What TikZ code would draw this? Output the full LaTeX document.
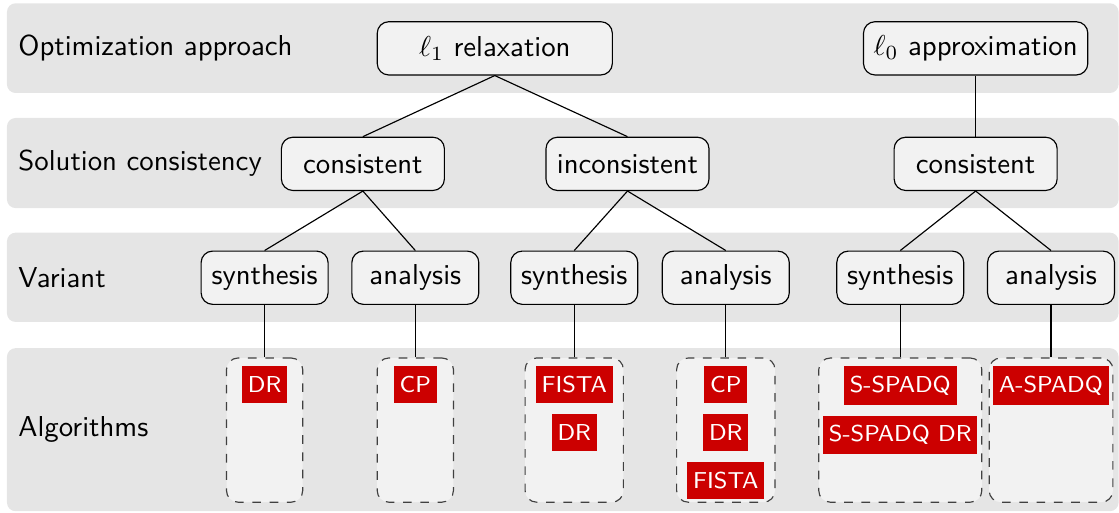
\documentclass[tikz,border=0pt]{standalone}
\usepackage{fontspec}
\usepackage{amsmath}
\usetikzlibrary{positioning}
\definecolor{algred}{RGB}{204,0,0}
\tikzset{
    band/.style={fill=black!10, rounded corners=3pt},
    rowlab/.style={anchor=west, font=\sffamily},
    choice/.style={rectangle, rounded corners=4pt, draw=black, fill=black!5, minimum height=0.65cm, inner xsep=3.5pt, font=\sffamily},
    algbox/.style={rectangle, rounded corners=4pt, draw=black!75, dashed, fill=black!5, minimum height=1.76cm},
    algtag/.style={rectangle, fill=algred, text=white, font=\sffamily\footnotesize, minimum height=0.45cm, inner xsep=2pt},
    link/.style={black, line width=0.4pt}
}

\begin{document}
\begin{tikzpicture}
    \useasboundingbox (0,0) rectangle (13.66,-6.25);

    % Background bands, one per level
    \fill[band] (0.085,-0.04) rectangle (13.655,-1.135);
    \fill[band] (0.085,-1.44) rectangle (13.655,-2.54);
    \fill[band] (0.085,-2.84) rectangle (13.655,-3.93);
    \fill[band] (0.085,-4.25) rectangle (13.655,-6.24);

    % Level labels
    \node[rowlab] (lapproach) at (0.10,-0.59) {Optimization approach};
    \node[rowlab] (lconsist) at (0.10,-1.99) {Solution consistency};
    \node[rowlab] (lvariant) at (0.10,-3.39) {Variant};
    \node[rowlab] (lalgo) at (0.10,-5.24) {Algorithms};

    % Optimization approach
    \node[choice, minimum width=2.87cm] (lone) at (6.04,-0.59) {$\ell_1$ relaxation};
    \node[choice] (lzero) at (11.91,-0.59) {$\ell_0$ approximation};

    % Solution consistency
    \node[choice, minimum width=1.99cm] (cons1) at (4.43,-2.00) {consistent};
    \node[choice, minimum width=1.99cm] (incons1) at (7.66,-2.00) {inconsistent};
    \node[choice, minimum width=1.99cm] (cons0) at (11.91,-2.00) {consistent};

    % Variants
    \node[choice, minimum width=1.55cm] (syn1) at (3.23,-3.39) {synthesis};
    \node[choice, minimum width=1.55cm] (ana1) at (5.07,-3.39) {analysis};
    \node[choice, minimum width=1.55cm] (syn2) at (7.01,-3.39) {synthesis};
    \node[choice, minimum width=1.55cm] (ana2) at (8.86,-3.39) {analysis};
    \node[choice, minimum width=1.55cm] (syn0) at (10.99,-3.39) {synthesis};
    \node[choice, minimum width=1.55cm] (ana0) at (12.83,-3.39) {analysis};

    % Tree edges
    \draw[link] (lone.south) -- (cons1.north);
    \draw[link] (lone.south) -- (incons1.north);
    \draw[link] (lzero.south) -- (cons0.north);
    \draw[link] (cons1.south) -- (syn1.north);
    \draw[link] (cons1.south) -- (ana1.north);
    \draw[link] (incons1.south) -- (syn2.north);
    \draw[link] (incons1.south) -- (ana2.north);
    \draw[link] (cons0.south) -- (syn0.north);
    \draw[link] (cons0.south) -- (ana0.north);

    % Algorithm containers
    \node[algbox, minimum width=0.93cm] (algs1) at (3.23,-5.25) {};
    \node[algbox, minimum width=0.93cm] (alga1) at (5.07,-5.25) {};
    \node[algbox, minimum width=1.20cm] (algs2) at (7.01,-5.25) {};
    \node[algbox, minimum width=1.20cm] (alga2) at (8.86,-5.25) {};
    \node[algbox, minimum width=1.99cm] (algs0) at (10.99,-5.25) {};
    \node[algbox, minimum width=1.51cm] (alga0) at (12.83,-5.25) {};

    \draw[link] (syn1.south) -- (algs1.north);
    \draw[link] (ana1.south) -- (alga1.north);
    \draw[link] (syn2.south) -- (algs2.north);
    \draw[link] (ana2.south) -- (alga2.north);
    \draw[link] (syn0.south) -- (algs0.north);
    \draw[link] (ana0.south) -- (alga0.north);

    % Algorithms
    \node[algtag, below=0.1cm of algs1.north] (dr1) {DR};
    \node[algtag, below=0.1cm of alga1.north] (cp1) {CP};
    \node[algtag, below=0.1cm of algs2.north] (fista2) {FISTA};
    \node[algtag, below=0.12cm of fista2] (dr2) {DR};
    \node[algtag, below=0.1cm of alga2.north] (cp2) {CP};
    \node[algtag, below=0.12cm of cp2] (dr3) {DR};
    \node[algtag, below=0.12cm of dr3] (fista3) {FISTA};
    \node[algtag, below=0.1cm of algs0.north] (sspadq) {S-SPADQ};
    \node[algtag, below=0.12cm of sspadq] (sspadqdr) {S-SPADQ DR};
    \node[algtag, below=0.1cm of alga0.north] (aspadq) {A-SPADQ};
\end{tikzpicture}
\end{document}
